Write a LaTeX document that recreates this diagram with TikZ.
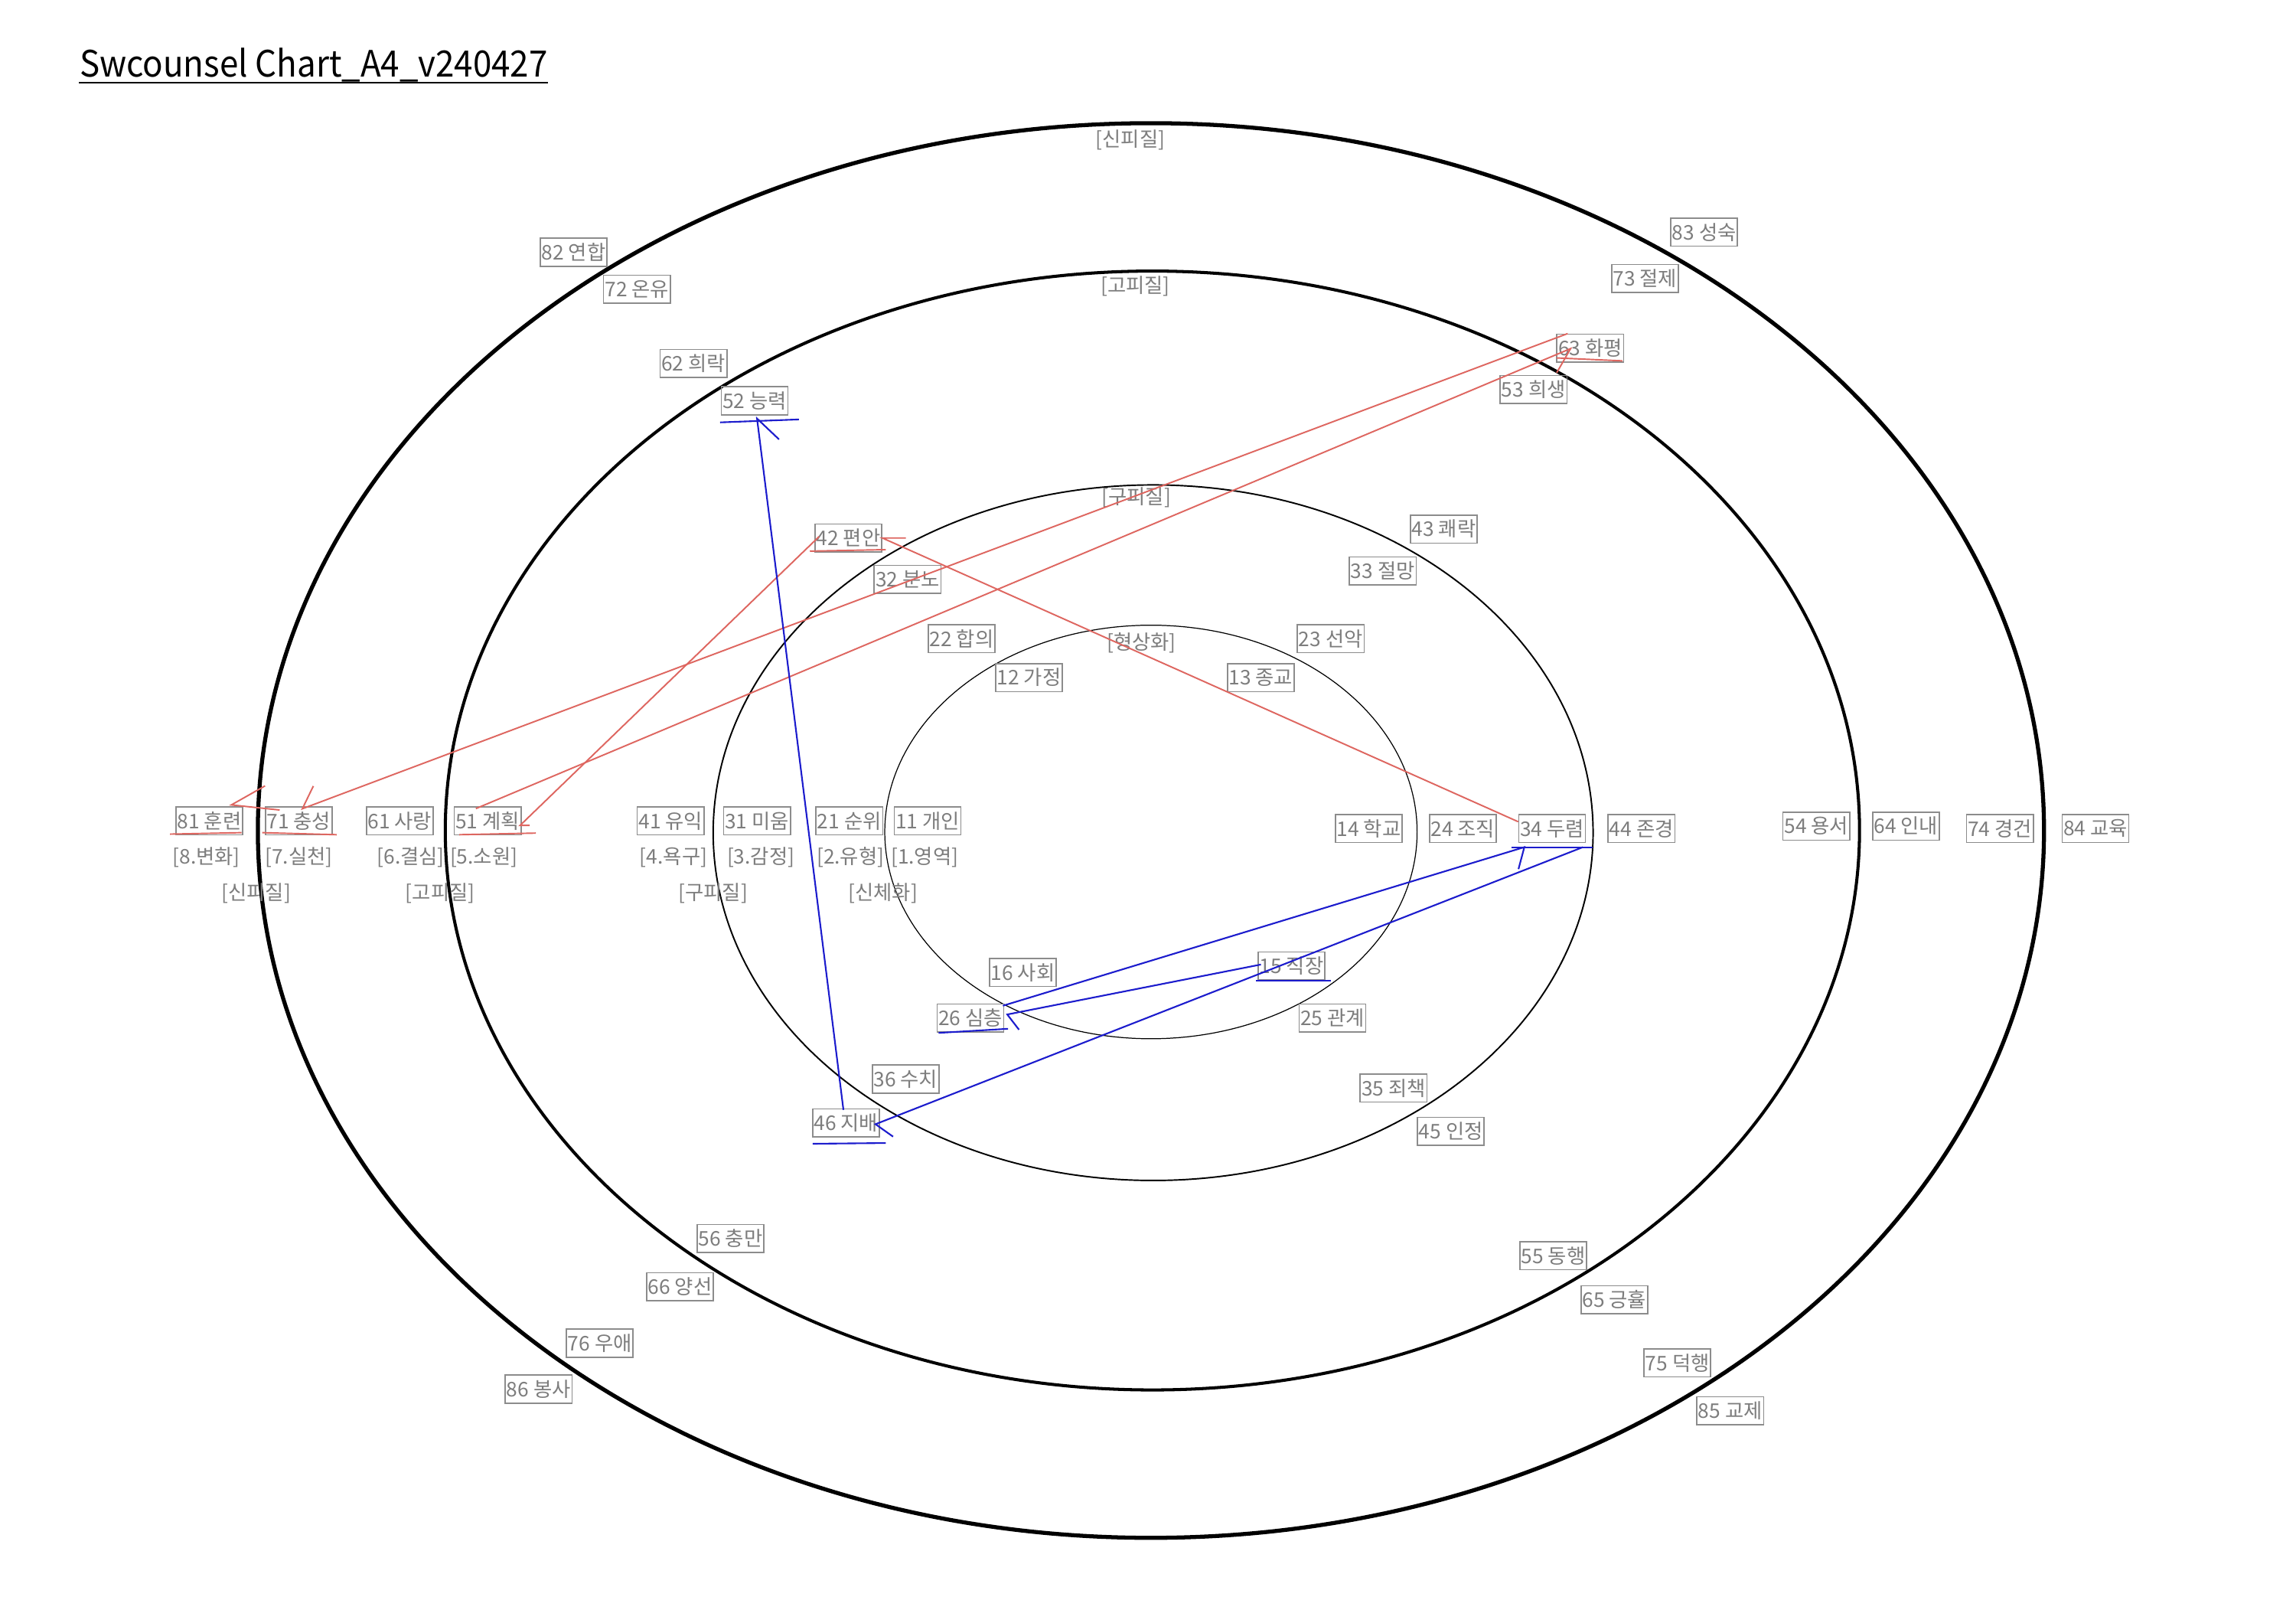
\documentclass[tikz,border=0pt]{standalone}
\usepackage{fontspec}
\usepackage{graphicx}
\setmainfont{Noto Sans CJK KR}
\usetikzlibrary{calc}
\definecolor{boxgray}{RGB}{140,140,140}
\definecolor{labelgray}{RGB}{125,125,125}
\definecolor{penred}{RGB}{222,102,96}
\definecolor{penblue}{RGB}{28,28,205}

\begin{document}
\begin{tikzpicture}[
    x=0.01913cm, y=-0.01913cm,
    cell/.style={draw=boxgray, line width=0.45pt, text=labelgray, font=\fontsize{7.5}{8}\selectfont, inner xsep=0.5pt, inner ysep=0pt, minimum height=10.4pt},
    tag/.style={text=labelgray, font=\fontsize{7.5}{8}\selectfont, inner sep=0pt},
    redpen/.style={penred, line width=0.55pt},
    bluepen/.style={penblue, line width=0.6pt}
  ]
  \useasboundingbox (0,0) rectangle (1568,1108);
  \fill[white] (0,0) rectangle (1568,1108);

  \node[anchor=base west, inner sep=0pt, font=\fontsize{13.5}{16}\selectfont] (title) at (54,52.3) {\scalebox{0.925}[1]{Swcounsel Chart\_A4\_v240427}};
  \draw[line width=0.65pt] ($(title.base west)+(0,4.3)$) -- ($(title.base east)+(0,4.3)$);

  % rings
  \draw[line width=1.5pt] (786,567) ellipse [x radius=11.67cm, y radius=9.24cm];
  \draw[line width=1.15pt] (787,567) ellipse [x radius=9.24cm, y radius=7.308cm];
  \draw[line width=0.55pt] (787.5,568.5) ellipse [x radius=5.749cm, y radius=4.543cm];
  \draw[line width=0.35pt] (786,568) ellipse [x radius=3.478cm, y radius=2.701cm];

  \node[tag] (t8) at (772,95.8) {[신피질]};
  \node[tag] (t6) at (775.4,195.5) {[고피질]};
  \node[tag] (t4) at (776,339.8) {[구피질]};
  \node[tag] (t2) at (779.5,438.7) {[형상화]};

  % left row
  \node[cell] (n81) at (143,560.5) {81 훈련};
  \node[cell] (n71) at (204,560.5) {71 충성};
  \node[cell] (n61) at (273,560.5) {61 사랑};
  \node[cell] (n51) at (333,560.5) {51 계획};
  \node[cell] (n41) at (458,560.5) {41 유익};
  \node[cell] (n31) at (517,560.5) {31 미움};
  \node[cell] (n21) at (580,560.5) {21 순위};
  \node[cell] (n11) at (633.5,560.5) {11 개인};
  \node[tag] (s8) at (141,585.5) {[8.변화]};
  \node[tag] (s7) at (204,585.5) {[7.실천]};
  \node[tag] (s6) at (280.5,585.5) {[6.결심]};
  \node[tag] (s5) at (330.4,585.5) {[5.소원]};
  \node[tag] (s4) at (460,585.5) {[4.욕구]};
  \node[tag] (s3) at (519.6,585.5) {[3.감정]};
  \node[tag] (s2) at (580.8,585.5) {[2.유형]};
  \node[tag] (s1) at (631.5,585.5) {[1.영역]};
  \node[tag] (c8) at (175,610) {[신피질]};
  \node[tag] (c6) at (300.6,610) {[고피질]};
  \node[tag] (c4) at (487,610) {[구피질]};
  \node[tag] (c2) at (603,610) {[신체화]};

  % right row
  \node[cell] (n14) at (934.8,565.6) {14 학교};
  \node[cell] (n24) at (999,565.6) {24 조직};
  \node[cell] (n34) at (1060,565.6) {34 두렴};
  \node[cell] (n44) at (1121,565.6) {44 존경};
  \node[cell] (n54) at (1240.4,564) {54 용서};
  \node[cell] (n64) at (1301.6,564) {64 인내};
  \node[cell] (n74) at (1365.8,565.6) {74 경건};
  \node[cell] (n84) at (1431,565.6) {84 교육};

  % upper half
  \node[cell] (n82) at (391.8,172.2) {82 연합};
  \node[cell] (n72) at (435,197.4) {72 온유};
  \node[cell] (n83) at (1163.8,158.5) {83 성숙};
  \node[cell] (n73) at (1123.4,190.2) {73 절제};
  \node[cell] (n62) at (473.6,248.1) {62 희락};
  \node[cell] (n52) at (515.3,273.6) {52 능력};
  \node[cell] (n63) at (1086,237.7) {63 화평};
  \node[cell] (n53) at (1047.3,265.9) {53 희생};
  \node[cell] (n42) at (579.4,367.3) {42 편안};
  \node[cell] (n32) at (619.8,395.5) {32 분노};
  \node[cell] (n43) at (986,361.2) {43 쾌락};
  \node[cell] (n33) at (944.3,389.7) {33 절망};
  \node[cell] (n22) at (656.7,436) {22 합의};
  \node[cell] (n23) at (908.8,436) {23 선악};
  \node[cell] (n12) at (702.7,462.6) {12 가정};
  \node[cell] (n13) at (861,462.6) {13 종교};

  % lower half
  \node[cell] (n16) at (698.5,663.9) {16 사회};
  \node[cell] (n15) at (882,659.5) {15 직장};
  \node[cell] (n26) at (662.7,695) {26 심층};
  \node[cell] (n25) at (910,695) {25 관계};
  \node[cell] (n36) at (618.5,736.7) {36 수치};
  \node[cell] (n35) at (951.7,742.8) {35 죄책};
  \node[cell] (n46) at (577.7,766.7) {46 지배};
  \node[cell] (n45) at (990.8,772.4) {45 인정};
  \node[cell] (n56) at (498.9,845.6) {56 충만};
  \node[cell] (n66) at (464.4,878.4) {66 양선};
  \node[cell] (n76) at (409.6,917) {76 우애};
  \node[cell] (n86) at (367.8,948.4) {86 봉사};
  \node[cell] (n55) at (1060.7,857.3) {55 동행};
  \node[cell] (n65) at (1102.5,887.3) {65 긍휼};
  \node[cell] (n75) at (1145.5,930.5) {75 덕행};
  \node[cell] (n85) at (1181.6,963.2) {85 교제};

  % red chain
  \draw[redpen] ($(n34.west)+(0,-4.6)$) -- (n42.east) -- ++(16,0);
  \draw[redpen] ($(n42.center)+(-20,-1)$) -- ($(n51.east)+(-1,3)$) -- ++(6.5,0);
  \draw[redpen] ($(n51.north)+(-8,1.5)$) -- ($(n63.center)+(-13.4,0.3)$) -- ++(-9.5,16.5);
  \draw[redpen] ($(n63.north)+(-15.4,0)$) -- ($(n71.north)+(2.5,1.6)$) -- ++(7.5,-15.5);
  \draw[redpen] ($(n71.center)+(-13,-7.5)$) -- ($(n81.north)+(15,-1)$) -- ++(23,-13);
  \draw[redpen] ($(n81.south west)+(-3.7,-1)$) -- ($(n81.south east)+(-1.2,-2)$);
  \draw[redpen] ($(n71.south west)+(-1.7,-2)$) -- ($(n71.south east)+(2.7,-0.6)$);
  \draw[redpen] ($(n51.south west)+(3.8,-0.6)$) -- ($(n51.south east)+(9.7,-1.7)$);
  \draw[redpen] ($(n42.south west)+(-3.1,-1)$) -- ($(n42.south east)+(2.3,-2)$);
  \draw[redpen] ($(n63.south west)+(0.2,-3.3)$) -- ($(n63.south east)+(-1.2,-1.3)$);

  % blue chain
  \draw[bluepen] ($(n15.west)+(2.3,-1)$) -- ($(n26.east)+(2,-2.4)$) -- ++(8,10.4);
  \draw[bluepen] ($(n26.north east)+(-1,1.6)$) -- ($(n34.south)+(-19,2.8)$) -- ++(-4,15);
  \draw[bluepen] ($(n34.south)+(21,2.8)$) -- ($(n46.east)+(-3,0.8)$) -- ++(12,8.5);
  \draw[bluepen] ($(n46.north)+(-1.7,1)$) -- ($(n52.south)+(1.7,2.2)$) -- ++(15,14.2);
  \draw[bluepen] ($(n52.south west)+(-0.3,4.8)$) -- ($(n52.south east)+(7.1,2.8)$);
  \draw[bluepen] ($(n46.south west)+(0.5,4.2)$) -- ($(n46.south east)+(4,3.7)$);
  \draw[bluepen] ($(n26.south west)+(1.5,0.2)$) -- ($(n26.south east)+(2.5,-2.6)$);
  \draw[bluepen] ($(n15.south west)+(-1,0)$) -- ($(n15.south east)+(3.5,0)$);
  \draw[bluepen] ($(n34.south west)+(-4.7,2.8)$) -- ($(n34.south east)+(4.7,2.8)$);
\end{tikzpicture}
\end{document}
